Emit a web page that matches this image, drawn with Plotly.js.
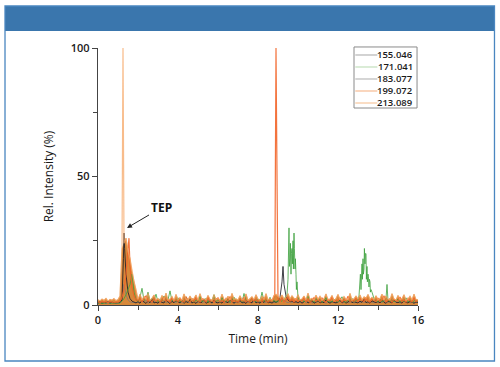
<!DOCTYPE html>
<html><head><meta charset="utf-8">
<script src="https://cdn.plot.ly/plotly-3.0.1.min.js"></script>
<style>html,body{margin:0;padding:0;background:#fff;}#chart{width:500px;height:367px;}</style>
</head><body><div id="chart"></div>
<script>
// Shared time grid (min)
var T = [0,0.1,0.2,0.3,0.4,0.5,0.6,0.7,0.8,0.9,
1,1.1,1.2,1.3,1.4,1.5,1.6,1.7,1.8,1.9,
2,2.1,2.2,2.3,2.4,2.5,2.6,2.7,2.8,2.9,
3,3.1,3.2,3.3,3.4,3.5,3.6,3.7,3.8,3.9,
4,4.1,4.2,4.3,4.4,4.5,4.6,4.7,4.8,4.9,
5,5.1,5.2,5.3,5.4,5.5,5.6,5.7,5.8,5.9,
6,6.1,6.2,6.3,6.4,6.5,6.6,6.7,6.8,6.9,
7,7.1,7.2,7.3,7.4,7.5,7.6,7.7,7.8,7.9,
8,8.1,8.2,8.3,8.4,8.5,8.6,8.7,8.8,8.9,
9,9.1,9.2,9.3,9.4,9.5,9.6,9.7,9.8,9.9,
10,10.1,10.2,10.3,10.4,10.5,10.6,10.7,10.8,10.9,
11,11.1,11.2,11.3,11.4,11.5,11.6,11.7,11.8,11.9,
12,12.1,12.2,12.3,12.4,12.5,12.6,12.7,12.8,12.9,
13,13.1,13.2,13.3,13.4,13.5,13.6,13.7,13.8,13.9,
14,14.1,14.2,14.3,14.4,14.5,14.6,14.7,14.8,14.9,
15,15.1,15.2,15.3,15.4,15.5,15.6,15.7,15.8,15.9,
16];

var names = ["155.046","171.041","183.077","199.072","213.089"];

// m/z 155.046 (dark trace)
var y155 = [0.8,1.2,0.6,1.0,0.9,1.4,0.7,1.1,0.8,1.0,
0.9,1.0,2.0,28,12,5,2.5,1.5,1.0,0.8,
1.3,0.7,1.8,1.0,0.6,1.5,0.9,2.2,0.8,1.1,
0.7,1.6,1.0,0.8,2.0,1.2,0.6,1.4,0.9,1.7,
1.1,0.8,1.9,0.7,1.3,1.0,2.1,0.8,1.2,0.6,
1.5,0.9,1.1,2.3,0.7,1.0,1.4,0.8,1.8,1.0,
0.8,1.3,0.7,1.6,1.1,0.9,2.0,1.2,0.7,1.4,
1.0,1.8,0.8,1.2,0.6,1.7,1.0,0.9,2.2,0.8,
1.3,0.7,1.5,1.0,1.9,0.8,1.2,0.7,1.4,1.0,
1.5,3.0,9.0,8.0,3.5,2.0,1.2,1.6,0.9,1.3,
0.9,1.4,0.7,1.2,1.8,0.8,1.0,1.5,0.7,1.1,
1.6,0.8,1.2,0.9,2.0,1.1,0.7,1.3,1.0,0.8,
1.2,1.9,0.8,1.4,0.7,1.1,1.7,0.9,1.3,1.0,
0.8,1.5,1.0,2.1,0.9,1.3,0.7,1.6,1.1,0.9,
1.4,0.8,1.8,1.0,0.7,1.5,1.2,0.8,2.0,1.1,
0.9,1.3,0.7,1.7,1.0,0.8,1.4,1.1,0.7,1.2,
1.0];
var pk155t = [1.27,1.33,9.25];
var pk155y = [18,22,15];

// m/z 171.041 (green)
var y171 = [0.6,0.9,0.5,0.8,0.7,1.0,0.6,0.8,0.5,0.9,
0.7,0.8,1.5,2.5,4.0,6.0,8.0,12,5.0,2.0,
1.5,3.0,6.5,1.8,2.2,5.0,1.4,2.6,1.8,4.2,
1.2,2.4,1.6,3.5,1.1,2.0,5.5,1.5,2.3,1.3,
2.8,1.2,1.9,1.0,3.2,1.6,1.3,2.5,1.1,2.0,
1.4,3.4,1.2,1.7,2.6,1.0,2.2,1.5,4.0,1.3,
2.1,1.1,2.9,1.6,1.3,2.4,1.0,1.8,3.1,1.2,
1.5,2.6,1.1,4.5,1.4,2.0,1.2,2.8,1.6,1.3,
2.4,1.3,5.0,1.5,2.1,1.2,3.0,1.4,1.8,1.1,
1.6,2.0,1.4,2.2,3.5,10,18,22,28,12,
3.0,1.5,2.2,1.2,1.8,3.6,1.3,2.0,1.1,2.5,
1.4,2.1,1.0,1.7,2.9,1.2,1.6,1.1,2.3,1.5,
1.2,1.8,3.2,1.4,1.1,2.0,1.5,2.6,1.3,1.7,
2.0,8.0,16,14,20,12,9.0,5.0,2.5,1.5,
1.3,2.2,1.1,1.8,2.5,1.8,1.4,2.0,1.2,1.6,
2.3,1.1,1.7,1.3,2.8,1.2,1.9,1.0,1.5,2.1,
1.2];
var pk171t = [9.45,9.52,9.55,9.57,9.62,9.65,9.67,9.72,9.75,9.77,9.82,9.85,9.87,9.92,9.95,
13.05,13.12,13.15,13.17,13.22,13.25,13.27,13.32,13.35,13.37,13.42,13.45,13.47,13.52,13.55,13.57,13.62,13.65,
14.45];
var pk171y = [4,22,30,15,24,12,20,16,25,14,22,14,18,6,9,
3.5,12,6,14,10,18,12,22,16,20,10,15,9,11,7,10,5,6,
8];

// m/z 183.077 (grey)
var y183 = [0.5,0.7,0.6,0.9,0.5,0.8,0.6,0.7,0.9,0.6,
0.8,0.7,2.0,8.0,4.0,2.0,1.2,1.0,0.8,0.9,
1.1,0.7,1.5,0.9,1.8,0.6,1.2,0.8,1.4,1.0,
0.7,1.3,0.9,1.6,0.8,1.1,0.6,1.9,1.0,0.8,
1.4,0.8,1.0,0.6,1.7,0.9,1.2,0.7,1.5,1.1,
0.9,1.6,0.7,1.2,0.8,1.8,1.0,0.6,1.3,0.9,
1.2,0.8,1.5,0.7,1.0,1.4,0.8,1.7,0.6,1.1,
0.8,1.3,1.0,0.7,1.6,0.9,1.2,0.8,1.4,1.0,
1.1,0.7,1.4,0.9,1.0,1.5,0.8,1.2,0.9,1.3,
1.0,1.6,2.5,2.0,1.2,0.9,1.3,0.8,1.5,1.1,
0.7,1.2,0.9,1.5,0.8,1.0,1.7,0.7,1.1,0.9,
1.3,0.8,1.6,1.0,0.7,1.2,0.9,1.4,0.8,1.0,
0.9,1.5,0.7,1.1,1.8,0.8,1.0,1.3,0.7,1.2,
1.0,0.8,1.4,0.9,1.2,0.7,1.6,1.0,0.8,1.3,
0.8,1.1,0.9,1.7,0.7,1.0,1.3,0.8,1.5,0.9,
1.2,0.7,1.0,1.4,0.9,1.6,0.8,1.1,0.7,1.0,
0.9];
var pk183t = [];
var pk183y = [];

// m/z 199.072 (orange-red)
var y199 = [1.2,0.8,1.5,1.0,1.3,0.9,1.4,1.1,0.8,1.2,
1.0,1.5,3.0,6.0,12,22,15,7,3.5,2.0,
1.8,2.9,1.2,2.2,3.6,1.4,2.0,1.1,2.7,1.5,
2.3,1.2,1.9,3.1,1.3,2.1,1.0,2.8,1.6,2.0,
1.3,2.6,1.5,1.1,3.2,1.8,1.2,2.4,1.4,2.9,
1.6,1.1,2.5,1.9,1.2,3.0,1.4,2.0,1.1,2.3,
2.8,1.3,1.7,1.0,2.6,1.5,3.3,1.2,1.9,1.4,
1.1,2.4,1.6,3.0,1.2,1.8,1.0,2.7,1.5,2.1,
1.4,2.2,1.2,2.9,1.6,1.1,2.3,1.5,3.2,100,
2.5,1.4,2.8,1.2,1.9,3.1,1.5,2.2,1.1,2.6,
1.3,2.0,1.6,3.0,1.2,2.4,1.0,1.8,2.9,1.4,
2.1,1.2,2.7,1.5,1.0,2.3,1.7,3.2,1.3,1.9,
1.5,2.8,1.1,2.0,1.6,3.4,1.2,2.2,1.4,2.6,
1.2,2.5,1.8,1.3,3.0,1.6,1.1,2.4,1.9,1.3,
2.7,1.4,2.0,3.6,1.2,1.7,2.5,1.0,2.2,1.5,
1.8,3.1,1.3,2.0,1.1,2.6,1.6,1.2,2.9,1.4,
1.7];
var pk199t = [1.55,8.84,8.87,8.88,8.93,8.96];
var pk199y = [26,4,55,96,70,12];

// m/z 213.089 (orange band)
var y213 = [2.0,1.6,2.3,1.8,2.6,1.5,2.2,1.9,2.5,1.7,
2.1,3.5,22,24,26,21,18,13,9,6,
2.2,4.2,1.9,3.4,2.1,4.5,1.8,2.6,3.9,2.0,
2.4,1.8,3.7,2.0,4.6,1.9,2.3,3.3,1.7,4.1,
2.1,2.8,1.8,4.3,2.2,1.9,3.5,2.0,2.5,3.9,
1.8,4.4,2.1,2.4,1.9,3.7,2.2,1.7,4.0,2.0,
2.6,1.9,4.2,2.1,2.0,3.4,1.8,4.5,2.2,2.4,
1.9,3.6,2.0,2.3,4.3,1.8,2.5,3.2,2.0,4.0,
2.2,1.9,3.5,2.1,4.4,2.0,2.4,1.8,3.7,4.2,
3.4,2.6,3.9,2.2,3.1,4.4,2.4,3.6,2.6,2.1,
4.0,2.0,2.3,3.5,1.9,4.6,2.1,2.6,1.8,3.8,
2.2,3.4,1.9,2.4,4.3,2.0,2.3,3.7,1.8,2.5,
4.1,2.1,1.9,3.3,2.2,2.0,4.5,1.9,2.4,3.5,
2.3,3.9,2.0,3.2,2.6,4.1,2.2,3.0,2.1,3.6,
2.0,2.5,4.2,1.9,3.5,2.2,2.0,4.4,2.3,1.9,
3.7,2.1,2.4,4.0,1.8,2.2,3.4,2.0,4.2,2.1,
2.0];
var pk213t = [1.22,1.25,1.28];
var pk213y = [70,100,55];

var xTickVals = [0,4,8,12,16];
var yTickVals = [0,50,100];

function merge(gy, pt, py){
  var pts = [];
  for (var i=0;i<T.length;i++) pts.push([T[i], gy[i]]);
  for (var j=0;j<pt.length;j++) pts.push([pt[j], py[j]]);
  pts.sort(function(a,b){return a[0]-b[0];});
  return {x: pts.map(function(p){return p[0];}), y: pts.map(function(p){return p[1];})};
}

var s155 = merge(y155, pk155t, pk155y);
var s171 = merge(y171, pk171t, pk171y);
var s183 = merge(y183, pk183t, pk183y);
var s199 = merge(y199, pk199t, pk199y);
var s213 = merge(y213, pk213t, pk213y);

var colors = ['rgba(30,30,40,0.85)','rgba(60,160,60,0.8)','rgba(120,120,120,0.7)','rgba(242,100,40,0.9)','rgba(245,165,100,0.75)'];
var legendColors = ['#c4c4c4','#cfe6c9','#c8c8c8','#f9c9a8','#f8d2b0'];

var traces = [
  {x:T, y:y213, type:'scatter', mode:'lines', fill:'tozeroy', fillcolor:'rgba(212,126,40,0.92)',
   line:{color:'rgba(212,126,40,0.9)', width:0.5}, showlegend:false, hoverinfo:'skip'},
  {x:s183.x, y:s183.y, type:'scatter', mode:'lines', name:names[2], line:{color:colors[2], width:1}},
  {x:s155.x, y:s155.y, type:'scatter', mode:'lines', name:names[0], line:{color:colors[0], width:1}},
  {x:s171.x, y:s171.y, type:'scatter', mode:'lines', name:names[1], line:{color:colors[1], width:1}},
  {x:s199.x, y:s199.y, type:'scatter', mode:'lines', name:names[3], line:{color:colors[3], width:1.2}},
  {x:s213.x, y:s213.y, type:'scatter', mode:'lines', name:names[4], line:{color:colors[4], width:1.2}}
];

// custom compact legend (box, sample lines, labels)
var lgX0 = 0.8, lgX1 = 0.997, lgY0 = 0.7665, lgY1 = 1.004;
var lgTop = 0.9728, lgStep = 0.0467;
var shapes = [
  {type:'rect', xref:'paper', yref:'paper', x0:-0.2906, x1:1.239, y0:1.0661, y1:1.1634,
   fillcolor:'#3a76ad', line:{width:0}, layer:'below'},
  {type:'rect', xref:'paper', yref:'paper', x0:-0.2906, x1:1.239, y0:-0.2179, y1:1.1634,
   fillcolor:'rgba(0,0,0,0)', line:{color:'#4a86c0', width:1.3}, layer:'below'},
  {type:'rect', xref:'paper', yref:'paper', x0:lgX0, x1:lgX1, y0:lgY0, y1:lgY1,
   fillcolor:'#ffffff', line:{color:'#8a8a8a', width:1}, layer:'above'}
];
var annotations = [
  {x:1.45, y:30, xref:'x', yref:'y', text:'<b>TEP</b>', showarrow:true, arrowhead:2, arrowsize:1,
   arrowwidth:1, arrowcolor:'#222', ax:34, ay:-20, font:{size:12, color:'#111'}}
];
for (var k=0;k<names.length;k++){
  var yy = lgTop - k*lgStep;
  shapes.push({type:'line', xref:'paper', yref:'paper', x0:0.804, x1:0.873, y0:yy, y1:yy,
    line:{color:legendColors[k], width:1.5}, layer:'above'});
  annotations.push({x:0.99, y:yy, xref:'paper', yref:'paper', xanchor:'right', yanchor:'middle',
    text:names[k], showarrow:false, font:{size:9.5, color:'#1a1a1a', weight:600}});
}

var layout = {
  width:500, height:367,
  margin:{l:98, r:82, t:48, b:62},
  paper_bgcolor:'#ffffff', plot_bgcolor:'#ffffff',
  font:{family:'Open Sans, sans-serif', size:11, color:'#1a1a1a'},
  showlegend:false,
  xaxis:{range:[0,16], tickvals:xTickVals, ticktext:xTickVals.map(String), ticks:'outside', ticklen:5,
    tickcolor:'#444', showline:true, linecolor:'#444', linewidth:1.2, showgrid:false, zeroline:false,
    tickfont:{size:11, weight:600},
    minor:{tickvals:[2,6,10,14], ticks:'outside', ticklen:4, tickcolor:'#444'},
    title:{text:'Time (min)', font:{size:12, weight:500}, standoff:8}, fixedrange:true},
  yaxis:{range:[0,100], tickvals:yTickVals, ticktext:yTickVals.map(String), ticks:'outside', ticklen:5,
    tickcolor:'#444', showline:true, linecolor:'#444', linewidth:1.2, showgrid:false, zeroline:false,
    tickfont:{size:11, weight:600},
    minor:{tickvals:[25,75], ticks:'outside', ticklen:4, tickcolor:'#444'},
    title:{text:'Rel. Intensity (%)', font:{size:12, weight:500}, standoff:14}, fixedrange:true},
  shapes:shapes,
  annotations:annotations
};

Plotly.newPlot('chart', traces, layout, {displayModeBar:false, staticPlot:true});
</script>
</body></html>
